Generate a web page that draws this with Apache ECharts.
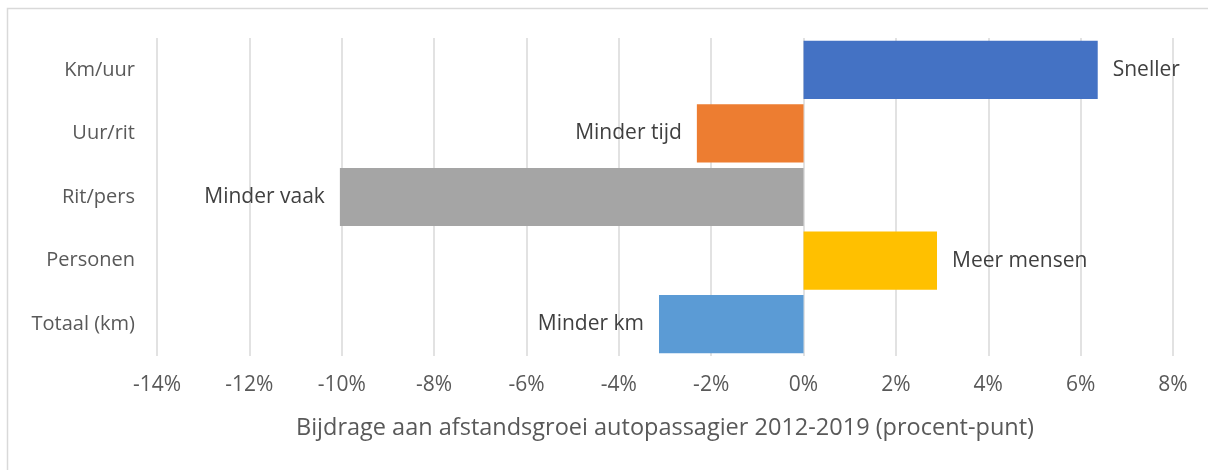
<!DOCTYPE html>
<html>
<head>
<meta charset="utf-8">
<script src="https://cdn.jsdelivr.net/npm/echarts@6/dist/echarts.min.js"></script>
<style>
  html, body { margin: 0; padding: 0; background: #fff; }
  #chart { width: 1208px; height: 470px; }
</style>
</head>
<body>
<div id="chart"></div>
<script>
  // bijdrage per component, procentpunt
  var categories = ["Km/uur", "Uur/rit", "Rit/pers", "Personen", "Totaal (km)"];
  var values = [6.37, -2.31, -10.04, 2.89, -3.13];
  var barLabels = ["Sneller", "Minder tijd", "Minder vaak", "Meer mensen", "Minder km"];
  var barColors = ["#4472C4", "#ED7D31", "#A5A5A5", "#FFC000", "#5B9BD5"];
  var axisTitle = "Bijdrage aan afstandsgroei autopassagier 2012-2019 (procent-punt)";

  var font = "'Open Sans', 'Noto Sans', sans-serif";
  var textColor = "#595959";

  var barData = values.map(function (v, i) {
    return {
      value: v,
      itemStyle: { color: barColors[i] },
      label: {
        position: v < 0 ? "left" : "right",
        formatter: barLabels[i]
      }
    };
  });

  var chart = echarts.init(document.getElementById("chart"), null, { renderer: "canvas" });
  chart.setOption({
    animation: false,
    backgroundColor: "#fff",
    textStyle: { fontFamily: font },
    graphic: [{
      type: "rect",
      shape: { x: 7.5, y: 8.5, width: 1220, height: 480 },
      style: { fill: null, stroke: "#d9d9d9", lineWidth: 1.5 },
      silent: true
    }],
    grid: { left: 157, right: 35, top: 38, bottom: 114, containLabel: false },
    xAxis: {
      type: "value",
      min: -14,
      max: 8,
      interval: 2,
      axisLine: { show: false },
      axisTick: { show: false },
      splitLine: { lineStyle: { color: "#d9d9d9", width: 1.5 } },
      axisLabel: {
        formatter: "{value}%",
        color: textColor,
        fontSize: 21,
        fontFamily: font,
        margin: 19
      },
      name: axisTitle,
      nameLocation: "middle",
      nameGap: 60,
      nameTextStyle: { color: textColor, fontSize: 23.5, fontFamily: font }
    },
    yAxis: {
      type: "category",
      inverse: true,
      data: categories,
      axisLine: { show: false },
      axisTick: { show: false },
      axisLabel: { color: textColor, fontSize: 20, fontFamily: font, margin: 22 }
    },
    series: [{
      type: "bar",
      data: barData,
      barWidth: "91.5%",
      z: 3,
      label: {
        show: true,
        color: "#404040",
        fontSize: 21,
        fontFamily: font,
        distance: 15
      }
    }]
  });
</script>
</body>
</html>
